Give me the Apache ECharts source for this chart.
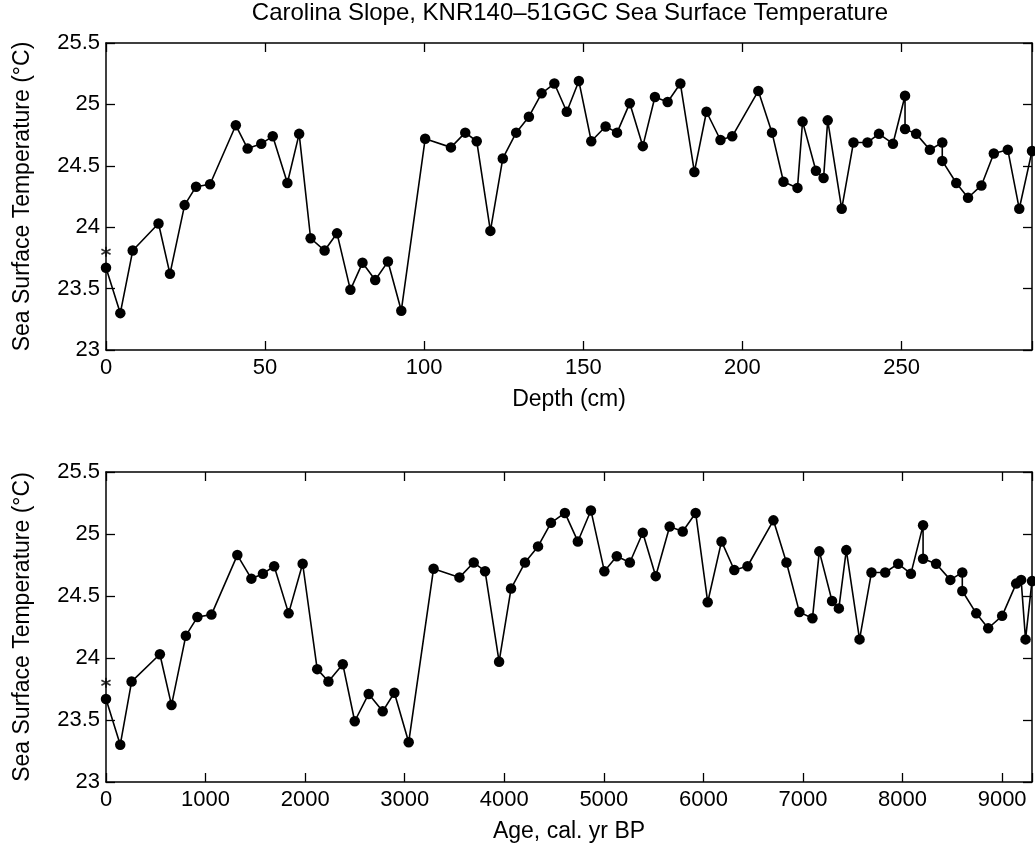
<!DOCTYPE html>
<html>
<head>
<meta charset="utf-8">
<script src="https://cdn.jsdelivr.net/npm/echarts@6/dist/echarts.min.js"></script>
<style>
html,body{margin:0;padding:0;background:#fff;}
#chart{width:1035px;height:849px;}
</style>
</head>
<body>
<div id="chart"></div>
<script>
// ---- data ----
var depthCm = [0,4.5,8.4,16.5,20.1,24.7,28.3,32.7,40.8,44.5,48.8,52.4,57,60.7,64.3,68.7,72.6,76.8,80.6,84.6,88.6,92.8,
  100.3,108.4,112.9,116.5,120.8,124.7,128.9,132.9,136.9,140.9,144.8,148.6,152.5,157,160.6,164.6,168.7,172.5,176.5,180.5,
  184.9,188.7,193.1,196.8,205,209.3,212.9,217.3,218.9,223.1,225.5,226.8,231.2,234.9,239.3,242.9,247.3,251.1,251.1,254.6,
  258.9,262.8,262.8,267.2,270.9,275.1,279,283.4,287,291];
var ageYrBP = [0,143,257,541,658,802,918,1059,1319,1460,1576,1689,1834,1975,2121,2234,2378,2498,2638,2779,2896,3040,
  3290,3550,3693,3807,3948,4068,4208,4339,4469,4609,4739,4870,5005,5130,5261,5391,5521,5661,5792,5922,
  6043,6182,6310,6443,6703,6834,6964,7095,7164,7292,7360,7435,7568,7688,7826,7956,8084,8206,8206,8337,
  8480,8600,8600,8740,8860,9000,9141,9191,9235,9300];
var sst = [23.67,23.30,23.81,24.03,23.62,24.18,24.33,24.35,24.83,24.64,24.68,24.74,24.36,24.76,23.91,23.81,23.95,23.49,23.71,23.57,23.72,23.32,
  24.72,24.65,24.77,24.70,23.97,24.56,24.77,24.90,25.09,25.17,24.94,25.19,24.70,24.82,24.77,25.01,24.66,25.06,25.02,25.17,
  24.45,24.94,24.71,24.74,25.11,24.77,24.37,24.32,24.86,24.46,24.40,24.87,24.15,24.69,24.69,24.76,24.68,25.07,24.80,24.76,
  24.63,24.69,24.54,24.36,24.24,24.34,24.60,24.63,24.15,24.62];
var coreTopDepth = [0];
var coreTopAge = [0];
var coreTopSST = [23.8];
var depthTicks = [0,50,100,150,200,250];
var ageTicks = [0,1000,2000,3000,4000,5000,6000,7000,8000,9000];
var sstTicks = [23,23.5,24,24.5,25,25.5];

var titleText = 'Carolina Slope, KNR140\u201351GGC Sea Surface Temperature';
var yName = 'Sea Surface Temperature (\u00B0C)';
var xName1 = 'Depth (cm)';
var xName2 = 'Age, cal. yr BP';

function zip(xs, ys){ return xs.map(function(x,i){ return [x, ys[i]]; }); }

var FONT = 'Liberation Sans, Arial, Helvetica, sans-serif';
var asterisk = 'path://M42 0 L58 0 L58 100 L42 100 Z M89.3 18.1 L97.3 31.9 L10.7 81.9 L2.7 68.1 Z M10.7 18.1 L97.3 68.1 L89.3 81.9 L2.7 31.9 Z';

function xAx(grid, pos, max, interval, ticks, name, show){
  return {
    type:'value', gridIndex:grid, position:pos, min:0, max:max, interval:interval,
    name: show ? name : '', nameLocation:'middle', nameGap:38,
    nameTextStyle:{color:'#000', fontSize:23, fontFamily:FONT},
    axisLine:{show:true, onZero:false, lineStyle:{color:'#000', width:1.5}},
    axisTick:{show:true, inside:true, length:9, lineStyle:{color:'#000', width:1.3}},
    axisLabel:{show:show, color:'#000', fontSize:22, fontFamily:FONT, margin:7,
      formatter:function(v){ return ticks.indexOf(v) >= 0 ? String(v) : ''; }},
    splitLine:{show:false}
  };
}
function yAx(grid, pos, show){
  return {
    type:'value', gridIndex:grid, position:pos, min:23, max:25.5, interval:0.5,
    name: show ? yName : '', nameLocation:'middle', nameGap:72, nameRotate:90,
    nameTextStyle:{color:'#000', fontSize:23, fontFamily:FONT},
    axisLine:{show:true, onZero:false, lineStyle:{color:'#000', width:1.5}},
    axisTick:{show:true, inside:true, length:9, lineStyle:{color:'#000', width:1.3}},
    axisLabel:{show:show, color:'#000', fontSize:22, fontFamily:FONT, margin:6,
      formatter:function(v){ return sstTicks.indexOf(v) >= 0 ? String(v) : ''; }},
    splitLine:{show:false}
  };
}

var chart = echarts.init(document.getElementById('chart'), null, {renderer:'canvas'});
chart.setOption({
  animation:false,
  backgroundColor:'#fff',
  title:{text:titleText, left:570, textAlign:'center', top:0, padding:[1,0,0,0],
    textStyle:{color:'#000', fontSize:24, fontWeight:'normal', fontFamily:FONT}},
  grid:[
    {left:106, top:43, width:927, height:307},
    {left:106, top:472, width:927, height:310}
  ],
  xAxis:[
    xAx(0,'bottom',291,50,depthTicks,xName1,true),
    xAx(0,'top',291,50,depthTicks,'',false),
    xAx(1,'bottom',9300,1000,ageTicks,xName2,true),
    xAx(1,'top',9300,1000,ageTicks,'',false)
  ],
  yAxis:[
    yAx(0,'left',true), yAx(0,'right',false),
    yAx(1,'left',true), yAx(1,'right',false)
  ],
  series:[
    {type:'line', xAxisIndex:0, yAxisIndex:0, data:zip(depthCm, sst),
      symbol:'circle', symbolSize:10.5, showAllSymbol:true,
      lineStyle:{color:'#000', width:1.6}, itemStyle:{color:'#000'}},
    {type:'scatter', xAxisIndex:0, yAxisIndex:0, data:zip(coreTopDepth, coreTopSST),
      symbol:asterisk, symbolSize:10, itemStyle:{color:'#000'}},
    {type:'line', xAxisIndex:2, yAxisIndex:2, data:zip(ageYrBP, sst),
      symbol:'circle', symbolSize:10.5, showAllSymbol:true,
      lineStyle:{color:'#000', width:1.6}, itemStyle:{color:'#000'}},
    {type:'scatter', xAxisIndex:2, yAxisIndex:2, data:zip(coreTopAge, coreTopSST),
      symbol:asterisk, symbolSize:10, itemStyle:{color:'#000'}}
  ]
});
</script>
</body>
</html>
